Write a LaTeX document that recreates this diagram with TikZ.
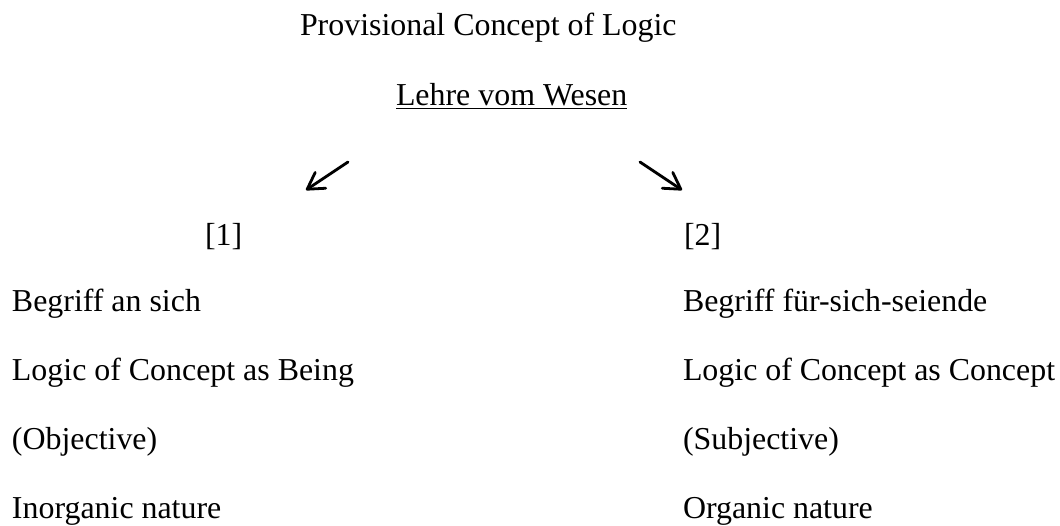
\documentclass[tikz,border=0pt]{standalone}
\usepackage{fontspec}
\setmainfont{Liberation Serif}
\usetikzlibrary{arrows.meta}
\tikzset{
  txt/.style={anchor=base west, inner sep=0pt, outer sep=0pt, font=\fontsize{31.9pt}{38pt}\selectfont},
  arr/.style={line width=2.8pt, line cap=round, -{Straight Barb[length=16pt,width=19pt,line cap=round,line join=round]}}
}
\begin{document}
\begin{tikzpicture}[x=1pt,y=-1pt]
\useasboundingbox (0,0) rectangle (1060,525);
\node[txt] (title) at (300,35) {Provisional Concept of Logic};
\node[txt] (lehre) at (396,105) {Lehre vom Wesen};
\draw[line width=1.8pt] ([yshift=-3.5pt]lehre.base west) -- ([yshift=-3.5pt]lehre.base east);
\coordinate (a1s) at (348,162);
\coordinate (a1e) at (306,190);
\coordinate (a2s) at (640,162);
\coordinate (a2e) at (682,190);
\draw[arr] (a1s) -- (a1e);
\draw[arr] (a2s) -- (a2e);
\node[txt] (one) at (205,245) {[1]};
\node[txt] (two) at (684,245) {[2]};
\node[txt] (l1) at (12,311) {Begriff an sich};
\node[txt] (l2) at (12,380) {Logic of Concept as Being};
\node[txt] (l3) at (12,449) {(Objective)};
\node[txt] (l4) at (12,518) {Inorganic nature};
\node[txt] (r1) at (683,311) {Begriff für-sich-seiende};
\node[txt] (r2) at (683,380) {Logic of Concept as Concept};
\node[txt] (r3) at (683,449) {(Subjective)};
\node[txt] (r4) at (683,518) {Organic nature};
\end{tikzpicture}
\end{document}
